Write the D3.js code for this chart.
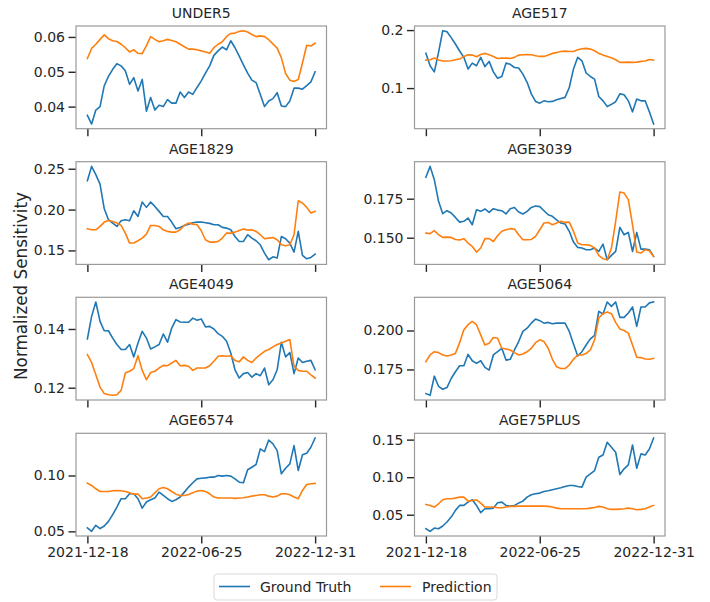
<!DOCTYPE html>
<html>
<head>
<meta charset="utf-8">
<script src="https://cdn.jsdelivr.net/npm/d3@7"></script>
<style>
  html, body { margin: 0; padding: 0; background: #fff; }
  svg { display: block; font-family: "DejaVu Sans", sans-serif; }
</style>
</head>
<body>
<svg id="chart" width="710" height="602"></svg>
<script>
// ---- Data -----------------------------------------------------------
const startDate = "2021-12-18";
const nWeeks = 55;
const xTickLabels = ["2021-12-18", "2022-06-25", "2022-12-31"];
const seriesNames = ["Ground Truth", "Prediction"];
const panelNames = ["UNDER5", "AGE517", "AGE1829", "AGE3039", "AGE4049", "AGE5064", "AGE6574", "AGE75PLUS"];

const under5Truth = [0.0375,0.035,0.039,0.040,0.046,0.0487,0.0507,0.0523,0.0517,0.0503,0.0464,0.0483,0.0445,0.0478,0.0387,0.0426,0.039,0.0404,0.040,0.042,0.041,0.041,0.0442,0.0426,0.0442,0.0435,0.0455,0.0474,0.0496,0.0517,0.0547,0.056,0.0571,0.0563,0.0589,0.0569,0.0545,0.052,0.0496,0.0476,0.0469,0.0435,0.040,0.0416,0.0423,0.044,0.0402,0.040,0.0416,0.0453,0.0453,0.045,0.046,0.0471,0.050];
const under5Pred = [0.0538,0.0567,0.0579,0.0593,0.0606,0.0595,0.0589,0.0587,0.0579,0.0569,0.0557,0.0563,0.0553,0.0552,0.0575,0.0601,0.0593,0.0586,0.0589,0.0593,0.059,0.0586,0.0579,0.0572,0.0565,0.0565,0.0563,0.056,0.0557,0.0553,0.0569,0.0579,0.0586,0.0601,0.061,0.0611,0.0616,0.0618,0.0614,0.0607,0.0601,0.0603,0.0601,0.0592,0.058,0.0568,0.054,0.0495,0.0476,0.0472,0.0478,0.0525,0.0576,0.0574,0.0582];

const age517Truth = [0.160,0.1385,0.128,0.1615,0.199,0.197,0.187,0.176,0.164,0.153,0.133,0.143,0.1385,0.153,0.137,0.146,0.128,0.117,0.120,0.143,0.141,0.1355,0.1345,0.124,0.110,0.090,0.077,0.074,0.078,0.0765,0.077,0.080,0.082,0.084,0.101,0.133,0.153,0.147,0.126,0.120,0.1155,0.0855,0.078,0.068,0.072,0.0765,0.090,0.0885,0.078,0.059,0.081,0.078,0.078,0.059,0.038];
const age517Pred = [0.1483,0.1489,0.1517,0.1483,0.1466,0.1466,0.1471,0.1489,0.15,0.1546,0.1575,0.1569,0.154,0.158,0.1598,0.1575,0.1546,0.1511,0.1517,0.1517,0.1511,0.1529,0.1569,0.1575,0.158,0.1575,0.1557,0.1546,0.1546,0.1569,0.1598,0.1615,0.1632,0.1638,0.1632,0.1632,0.1661,0.1678,0.1684,0.1672,0.1644,0.1598,0.1569,0.1546,0.1523,0.1489,0.1443,0.1443,0.1448,0.1443,0.1448,0.146,0.1466,0.1494,0.1483];

const age1829Truth = [0.2353,0.2529,0.2427,0.2312,0.2010,0.1876,0.1835,0.1794,0.1863,0.1876,0.1863,0.1986,0.1916,0.2092,0.2027,0.2092,0.2039,0.1978,0.1916,0.1916,0.1847,0.1765,0.1782,0.1806,0.1822,0.1839,0.1847,0.1847,0.1839,0.1831,0.1814,0.1814,0.1782,0.1773,0.1753,0.1671,0.1610,0.1610,0.1692,0.1651,0.1618,0.1569,0.1467,0.1386,0.1422,0.1406,0.1671,0.1643,0.1590,0.1480,0.1733,0.1439,0.1398,0.1414,0.1455];
const age1829Pred = [0.1765,0.1753,0.1753,0.1794,0.1847,0.1867,0.1855,0.1835,0.1806,0.1712,0.1590,0.1590,0.1618,0.1651,0.1700,0.1806,0.1806,0.1794,0.1753,0.1733,0.1724,0.1724,0.1753,0.1806,0.1835,0.1822,0.1814,0.1741,0.1631,0.1602,0.1602,0.1610,0.1651,0.1712,0.1712,0.1724,0.1745,0.1761,0.1749,0.1753,0.1733,0.1692,0.1643,0.1651,0.1659,0.1631,0.1569,0.1557,0.1569,0.1692,0.2108,0.2080,0.2027,0.1957,0.1978];

const age3039Truth = [0.1887,0.1957,0.1872,0.1733,0.1654,0.1673,0.1658,0.1630,0.1600,0.1605,0.1626,0.1583,0.1679,0.1669,0.1684,0.1662,0.1686,0.1677,0.1673,0.1652,0.1686,0.1694,0.1665,0.1652,0.1669,0.1694,0.1703,0.1699,0.1673,0.1647,0.1637,0.1615,0.1594,0.1588,0.1541,0.1472,0.1438,0.1434,0.1423,0.1423,0.1434,0.1412,0.1459,0.1359,0.1387,0.1412,0.1566,0.1519,0.1534,0.1412,0.1534,0.1427,0.1427,0.1423,0.1380];
const age3039Pred = [0.1530,0.1526,0.1545,0.1519,0.1502,0.1504,0.1502,0.1489,0.1485,0.1494,0.1466,0.1444,0.1408,0.1434,0.1494,0.1494,0.1476,0.1513,0.1541,0.1551,0.1558,0.1556,0.1519,0.1487,0.1487,0.1489,0.1509,0.1551,0.1594,0.1598,0.1583,0.1594,0.1605,0.1598,0.1600,0.1541,0.1466,0.1455,0.1455,0.1451,0.1434,0.1387,0.1365,0.1359,0.1434,0.1605,0.1793,0.1786,0.1744,0.1583,0.1408,0.1402,0.1423,0.1417,0.1380];

const age4049Truth = [0.1366,0.1443,0.1492,0.1426,0.1394,0.1394,0.1369,0.1347,0.1330,0.1330,0.1347,0.1305,0.1352,0.1392,0.1369,0.1332,0.1339,0.1347,0.1383,0.1355,0.1403,0.1432,0.1424,0.1423,0.1423,0.1437,0.1430,0.1434,0.1407,0.1409,0.1400,0.1384,0.1375,0.1358,0.1318,0.1261,0.1233,0.1248,0.1252,0.1236,0.1248,0.1241,0.1267,0.1210,0.1227,0.1261,0.1355,0.1305,0.1320,0.1248,0.1301,0.1286,0.1290,0.1293,0.1261];
const age4049Pred = [0.1313,0.1286,0.1244,0.1202,0.1180,0.1176,0.1174,0.1176,0.1191,0.1250,0.1256,0.1265,0.1309,0.1259,0.1227,0.1252,0.1256,0.1267,0.1276,0.1275,0.1284,0.1293,0.1275,0.1276,0.1273,0.1259,0.1267,0.1267,0.1267,0.1275,0.1290,0.1307,0.1309,0.1307,0.1309,0.1293,0.1288,0.1305,0.1293,0.1286,0.1301,0.1313,0.1324,0.1330,0.1339,0.1347,0.1352,0.1358,0.1364,0.1273,0.1259,0.1256,0.1256,0.1244,0.1233];

const age5064Truth = [0.1595,0.1584,0.1707,0.1642,0.1623,0.1634,0.1692,0.1735,0.1774,0.1774,0.1847,0.1806,0.1789,0.1806,0.1763,0.1746,0.1843,0.1864,0.1886,0.1810,0.1815,0.1875,0.1929,0.1994,0.2015,0.2047,0.2073,0.2063,0.2047,0.2052,0.2043,0.2047,0.2047,0.2047,0.1994,0.1914,0.1836,0.1864,0.1907,0.1946,0.1968,0.2123,0.2106,0.2183,0.2155,0.2183,0.2084,0.2084,0.2112,0.2151,0.2026,0.2151,0.2151,0.2177,0.2183];
const age5064Pred = [0.1800,0.1843,0.1864,0.1858,0.1843,0.1836,0.1843,0.1853,0.1922,0.2004,0.2037,0.2058,0.2037,0.1972,0.1907,0.1918,0.1955,0.1950,0.1886,0.1881,0.1875,0.1858,0.1843,0.1849,0.1864,0.1886,0.1922,0.1940,0.1929,0.1886,0.1815,0.1767,0.1756,0.1756,0.1778,0.1815,0.1843,0.1843,0.1853,0.1875,0.1940,0.2080,0.2108,0.2119,0.2108,0.2052,0.2009,0.2000,0.1983,0.1907,0.1828,0.1826,0.1817,0.1815,0.1821];

const age6574Truth = [0.053,0.050,0.0554,0.0524,0.0548,0.0589,0.0649,0.0717,0.0792,0.0792,0.0836,0.0836,0.0792,0.0708,0.0762,0.0783,0.0798,0.0851,0.0821,0.0792,0.0768,0.0783,0.0807,0.0851,0.0896,0.0935,0.097,0.0976,0.0979,0.0985,0.0985,0.100,0.0994,0.100,0.0994,0.097,0.094,0.0935,0.1051,0.1074,0.1098,0.1238,0.1214,0.1318,0.1283,0.1223,0.1015,0.1065,0.1104,0.1268,0.1045,0.1185,0.1199,0.1253,0.1336];
const age6574Pred = [0.0932,0.0911,0.0881,0.0857,0.0857,0.0857,0.0863,0.0866,0.0863,0.0857,0.0845,0.0833,0.0833,0.0792,0.0798,0.0807,0.0845,0.0881,0.0893,0.0881,0.0857,0.0833,0.0821,0.0821,0.0830,0.0845,0.0860,0.0866,0.0857,0.0836,0.0807,0.0798,0.0798,0.0798,0.0798,0.0795,0.0798,0.0801,0.0807,0.0815,0.0821,0.0827,0.0827,0.0815,0.0807,0.0815,0.0836,0.0836,0.0827,0.0807,0.0792,0.0866,0.0920,0.0926,0.0929];

const age75plusTruth = [0.0314,0.0279,0.0323,0.0314,0.0350,0.0403,0.0469,0.0558,0.0624,0.0624,0.0668,0.0699,0.0624,0.0527,0.0580,0.0580,0.0588,0.0659,0.0668,0.0624,0.0615,0.0624,0.0655,0.0681,0.0735,0.0765,0.0779,0.0788,0.0810,0.0819,0.0832,0.0845,0.0858,0.0876,0.0889,0.0889,0.0876,0.0867,0.1000,0.1044,0.1088,0.1265,0.1296,0.1465,0.1398,0.1332,0.1035,0.1111,0.1164,0.1429,0.1119,0.1310,0.1296,0.1376,0.1522];
const age75plusPred = [0.0637,0.0624,0.0602,0.0646,0.0699,0.0712,0.0712,0.0721,0.0735,0.0735,0.0681,0.0690,0.0699,0.0655,0.0602,0.0602,0.0602,0.0593,0.0593,0.0602,0.0611,0.0611,0.0615,0.0615,0.0615,0.0615,0.0615,0.0615,0.0615,0.0611,0.0602,0.0588,0.0580,0.0580,0.0580,0.0580,0.0580,0.0580,0.0580,0.0588,0.0597,0.0611,0.0602,0.0580,0.0571,0.0571,0.0575,0.0580,0.0588,0.0580,0.0566,0.0571,0.0580,0.0602,0.0624];

// y tick values and labels per panel
const yTicks = [
  [0.04, 0.05, 0.06], [0.1, 0.2], [0.15, 0.20, 0.25], [0.150, 0.175],
  [0.12, 0.14], [0.175, 0.200], [0.05, 0.10], [0.05, 0.10, 0.15]
];
const yTickLabels = [
  ["0.04", "0.05", "0.06"], ["0.1", "0.2"], ["0.15", "0.20", "0.25"], ["0.150", "0.175"],
  ["0.12", "0.14"], ["0.175", "0.200"], ["0.05", "0.10"], ["0.05", "0.10", "0.15"]
];

const truthSeries = [under5Truth, age517Truth, age1829Truth, age3039Truth, age4049Truth, age5064Truth, age6574Truth, age75plusTruth];
const predSeries = [under5Pred, age517Pred, age1829Pred, age3039Pred, age4049Pred, age5064Pred, age6574Pred, age75plusPred];

// ---- Layout ---------------------------------------------------------
const colors = ["#1f77b4", "#ff7f0e"];
const colX = [76, 414.5];
const panelW = 250.5;
const rowY = [26, 161.7, 297.3, 433.3];
const panelH = 102.7;

const svg = d3.select("#chart");
const parse = d3.utcParse("%Y-%m-%d");
const t0 = parse(startDate);
const dates = d3.range(nWeeks).map(i => d3.utcDay.offset(t0, 7 * i));
const xTickDates = xTickLabels.map(parse);

panelNames.forEach((name, p) => {
  const col = p % 2, row = Math.floor(p / 2);
  const g = svg.append("g").attr("transform", `translate(${colX[col]},${rowY[row]})`);
  const tExt = d3.extent(dates);
  const span = tExt[1] - tExt[0];
  const x = d3.scaleUtc()
    .domain([new Date(+tExt[0] - span * 0.05), new Date(+tExt[1] + span * 0.05)])
    .range([0, panelW]);
  const all = truthSeries[p].concat(predSeries[p]);
  const [lo, hi] = d3.extent(all);
  const pad = (hi - lo) * 0.05;
  const y = d3.scaleLinear().domain([lo - pad, hi + pad]).range([panelH, 0]);

  // axes
  const yAxis = d3.axisLeft(y).tickValues(yTicks[p])
    .tickFormat((d, i) => yTickLabels[p][i]).tickSize(7.5).tickPadding(3.5);
  const gy = g.append("g").call(yAxis);
  gy.select(".domain").remove();
  gy.selectAll(".tick line").attr("stroke", "#262626").attr("stroke-width", 1.4);
  gy.selectAll(".tick text").attr("font-size", 14).attr("fill", "#262626")
    .attr("font-family", "DejaVu Sans, sans-serif");

  const xAxis = d3.axisBottom(x).tickValues(xTickDates)
    .tickFormat((d, i) => row === 3 ? xTickLabels[i] : "").tickSize(7.5).tickPadding(3.5);
  const gx = g.append("g").attr("transform", `translate(0,${panelH})`).call(xAxis);
  gx.select(".domain").remove();
  gx.selectAll(".tick line").attr("stroke", "#262626").attr("stroke-width", 1.4);
  gx.selectAll(".tick text").attr("font-size", 14).attr("fill", "#262626")
    .attr("font-family", "DejaVu Sans, sans-serif");

  // lines
  const line = d3.line().x((d, i) => x(dates[i])).y(d => y(d));
  [truthSeries[p], predSeries[p]].forEach((s, k) => {
    g.append("path").datum(s).attr("d", line)
      .attr("fill", "none").attr("stroke", colors[k]).attr("stroke-width", 1.6)
      .attr("stroke-linejoin", "round").attr("stroke-linecap", "square");
  });

  // frame
  g.append("rect").attr("x", 0).attr("y", 0).attr("width", panelW).attr("height", panelH)
    .attr("fill", "none").attr("stroke", "#9a9a9a").attr("stroke-width", 1.2);

  // title
  g.append("text").attr("x", panelW / 2).attr("y", -8).attr("text-anchor", "middle")
    .attr("font-size", 14).attr("fill", "#262626").text(name);
});

// y label
svg.append("text")
  .attr("transform", "translate(27,286) rotate(-90)")
  .attr("text-anchor", "middle").attr("font-size", 16.8).attr("fill", "#262626")
  .text("Normalized Sensitivity");

// legend
const lg = svg.append("g").attr("transform", "translate(214,574)");
lg.append("rect").attr("x", 0).attr("y", 0).attr("width", 283).attr("height", 26)
  .attr("rx", 3).attr("fill", "#fff").attr("stroke", "#d9d9d9").attr("stroke-width", 1);
const legX = [[5, 46], [166, 208]];
seriesNames.forEach((n, k) => {
  lg.append("line").attr("x1", legX[k][0]).attr("x2", legX[k][0] + 31).attr("y1", 12.5).attr("y2", 12.5)
    .attr("stroke", colors[k]).attr("stroke-width", 1.6);
  lg.append("text").attr("x", legX[k][1]).attr("y", 17.5).attr("font-size", 14)
    .attr("fill", "#262626").text(n);
});
</script>
</body>
</html>
